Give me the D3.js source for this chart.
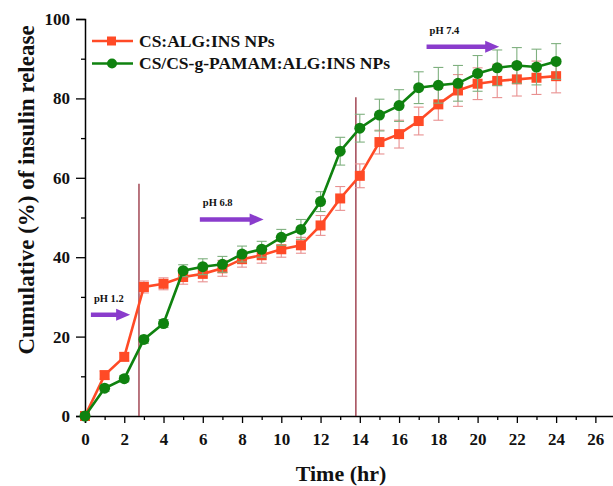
<!DOCTYPE html>
<html>
<head>
<meta charset="utf-8">
<script src="https://cdn.jsdelivr.net/npm/d3@7"></script>
<style>
  body { margin: 0; background: #fff; }
  svg text { font-family: "Liberation Serif", "Times New Roman", serif; font-weight: bold; }
</style>
</head>
<body>
<div id="chart"></div>
<script>
// time points (hr)
const times = d3.range(0, 25);
// CS:ALG:INS NPs
const redVals = [0, 10.3, 14.9, 32.5, 33.3, 35, 35.8, 37.2, 39.5, 40.5, 42, 43, 48, 54.8, 60.5, 69, 71, 74.3, 78.5, 82, 83.7, 84.4, 84.8, 85.2, 85.6];
const redErr  = [0, 1, 1, 1.5, 1.5, 1.8, 2, 2, 2, 2, 2, 2, 2.5, 3, 3, 3, 3.5, 3.5, 4, 4, 4, 4.2, 4.2, 4.2, 4.2];
// CS/CS-g-PAMAM:ALG:INS NPs
const greenVals = [0, 7, 9.4, 19.3, 23.3, 36.6, 37.6, 38.2, 40.8, 42, 45, 47, 54, 66.7, 72.5, 75.8, 78.2, 82.7, 83.3, 83.8, 86.3, 87.7, 88.3, 87.9, 89.3];
const greenErr  = [0, 0.8, 0.8, 1, 1, 1.5, 2, 2, 2, 2, 2, 2.5, 2.5, 3.5, 3.5, 4, 4, 4, 4.5, 4.5, 4.5, 4.5, 4.5, 4.5, 4.5];
const seriesNames = ["CS:ALG:INS NPs", "CS/CS-g-PAMAM:ALG:INS NPs"];
const xTicks = d3.range(0, 27, 2);
const yTicks = [0, 20, 40, 60, 80, 100];
// phase boundaries (hr) and pH labels
const boundaries = [{t: 2.75, top: 58.5}, {t: 13.8, top: 80.3}];
const phLabels = [
  {label: "pH 1.2", t0: 0.3, t1: 2.3, y: 25.5},
  {label: "pH 6.8", t0: 5.85, t1: 9.1, y: 49.5},
  {label: "pH 7.4", t0: 17.4, t1: 21.1, y: 93}
];

const W = 613, H = 486;
const x = d3.scaleLinear().domain([0, 27]).range([85, 615]);
const y = d3.scaleLinear().domain([0, 100]).range([416, 19]);

const svg = d3.select('#chart').append('svg')
    .attr('width', W)
    .attr('height', H);

const red = "#ff4a26", green = "#0f820f", purple = "#8a3ccc";

// axes
svg.append('g').attr('transform', `translate(0,${y(0)})`)
    .call(d3.axisBottom(x).tickValues(xTicks).tickSize(7).tickPadding(10).tickFormat(d3.format('d')));
svg.append('g').attr('transform', `translate(0,${y(0)})`)
    .call(d3.axisBottom(x).tickValues(d3.range(1, 27, 2)).tickSize(4).tickFormat(''))
    .select('.domain').remove();
svg.append('g').attr('transform', `translate(${x(0)},0)`)
    .call(d3.axisLeft(y).tickValues(yTicks).tickSize(9).tickPadding(6));
svg.append('g').attr('transform', `translate(${x(0)},0)`)
    .call(d3.axisLeft(y).tickValues([10, 30, 50, 70, 90]).tickSize(4).tickFormat(''))
    .select('.domain').remove();
svg.selectAll('.domain').attr('stroke', '#000').attr('stroke-width', 1.5);
svg.selectAll('.tick line').attr('stroke', '#000').attr('stroke-width', 1.3);
svg.selectAll('.tick text').attr('font-size', 17).attr('fill', '#111')
    .attr('font-family', '"Liberation Serif", serif').attr('font-weight', 'bold');

// phase lines
svg.selectAll('.phase').data(boundaries).enter().append('line')
    .attr('x1', d => x(d.t)).attr('x2', d => x(d.t))
    .attr('y1', d => y(d.top)).attr('y2', y(0))
    .attr('stroke', '#8b1a2a').attr('stroke-width', 1.2);

// pH arrows
phLabels.forEach(p => {
  const x0 = x(p.t0), x1 = x(p.t1), yy = y(p.y);
  svg.append('line').attr('x1', x0).attr('x2', x1 - 12).attr('y1', yy).attr('y2', yy)
      .attr('stroke', purple).attr('stroke-width', 4.5);
  svg.append('path')
      .attr('d', `M${x1 - 14},${yy - 6}L${x1},${yy}L${x1 - 14},${yy + 6}Z`)
      .attr('fill', purple);
  svg.append('text').attr('x', x0 + 3).attr('y', yy - 13)
      .attr('font-size', 10.5).attr('fill', '#111').text(p.label);
});

function drawSeries(vals, errs, color, errColor, shape) {
  const g = svg.append('g');
  const pts = times.map((t, i) => ({t, v: vals[i], e: errs[i]}));
  // error bars
  const eb = g.selectAll('.eb').data(pts.filter(d => d.e > 0)).enter().append('g')
      .attr('stroke', errColor).attr('stroke-width', 1.1);
  eb.append('line').attr('x1', d => x(d.t)).attr('x2', d => x(d.t))
      .attr('y1', d => y(d.v - d.e)).attr('y2', d => y(d.v + d.e));
  eb.append('line').attr('x1', d => x(d.t) - 5).attr('x2', d => x(d.t) + 5)
      .attr('y1', d => y(d.v + d.e)).attr('y2', d => y(d.v + d.e));
  eb.append('line').attr('x1', d => x(d.t) - 5).attr('x2', d => x(d.t) + 5)
      .attr('y1', d => y(d.v - d.e)).attr('y2', d => y(d.v - d.e));
  g.append('path').datum(pts)
      .attr('fill', 'none').attr('stroke', color).attr('stroke-width', 2.6)
      .attr('d', d3.line().x(d => x(d.t)).y(d => y(d.v)));
  if (shape === 'square') {
    g.selectAll('.m').data(pts).enter().append('rect')
        .attr('x', d => x(d.t) - 5).attr('y', d => y(d.v) - 5)
        .attr('width', 10).attr('height', 10).attr('fill', color);
  } else {
    g.selectAll('.m').data(pts).enter().append('circle')
        .attr('cx', d => x(d.t)).attr('cy', d => y(d.v)).attr('r', 5.5).attr('fill', color);
  }
}

drawSeries(redVals, redErr, red, "#e89090", 'square');
drawSeries(greenVals, greenErr, green, "#7fb07f", 'circle');

// legend
const legend = svg.append('g');
[[red, 'square'], [green, 'circle']].forEach(([c, s], i) => {
  const ly = 41 + i * 22.5;
  legend.append('line').attr('x1', 92).attr('x2', 133).attr('y1', ly).attr('y2', ly)
      .attr('stroke', c).attr('stroke-width', 2.6);
  if (s === 'square') legend.append('rect').attr('x', 107).attr('y', ly - 4.5).attr('width', 9).attr('height', 9).attr('fill', c);
  else legend.append('circle').attr('cx', 112).attr('cy', ly).attr('r', 5).attr('fill', c);
  legend.append('text').attr('x', 139).attr('y', ly + 5.5).attr('font-size', 17.5)
      .attr('fill', '#111').text(seriesNames[i]);
});

// axis titles
svg.append('text').attr('x', 341).attr('y', 481).attr('text-anchor', 'middle')
    .attr('font-size', 22).attr('fill', '#111').text('Time (hr)');
svg.append('text').attr('transform', 'translate(34,190) rotate(-90)').attr('text-anchor', 'middle')
    .attr('font-size', 23).attr('fill', '#111').text('Cumulative (%) of insulin release');
</script>
</body>
</html>
